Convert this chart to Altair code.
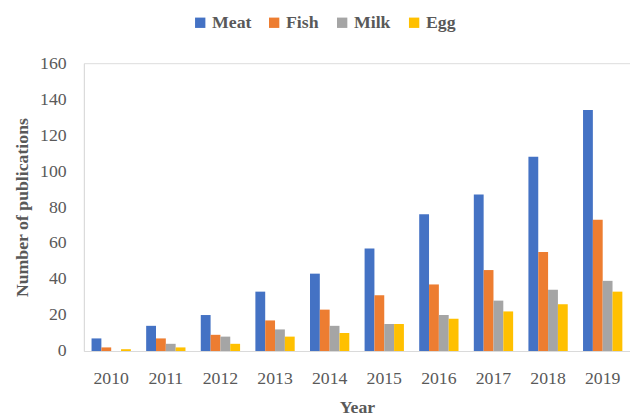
import altair as alt
import pandas as pd

years = ["2010", "2011", "2012", "2013", "2014", "2015", "2016", "2017", "2018", "2019"]
series = ["Meat", "Fish", "Milk", "Egg"]
meat = [7, 14, 20, 33, 43, 57, 76, 87, 108, 134]
fish = [2, 7, 9, 17, 23, 31, 37, 45, 55, 73]
milk = [0, 4, 8, 12, 14, 15, 20, 28, 34, 39]
egg = [1, 2, 4, 8, 10, 15, 18, 22, 26, 33]
colors = ["#4472C4", "#ED7D31", "#A5A5A5", "#FFC000"]

rows = []
for name, vals in zip(series, [meat, fish, milk, egg]):
    for y, v in zip(years, vals):
        rows.append({"Year": y, "Type": name, "Value": v})
df = pd.DataFrame(rows)

FONT = "Liberation Serif"

chart = alt.Chart(df).mark_bar().encode(
    x=alt.X("Year:N", sort=years,
            scale=alt.Scale(paddingInner=0.28, paddingOuter=0.14),
            axis=alt.Axis(title="Year", labelAngle=0, ticks=False, domainColor="#D9D9D9",
                          labelFontSize=18, labelColor="#595959", labelFont=FONT, labelPadding=19,
                          titleFont=FONT, titleFontSize=18, titleColor="#595959", titleFontWeight="bold",
                          titlePadding=11)),
    xOffset=alt.XOffset("Type:N", sort=series),
    y=alt.Y("Value:Q", scale=alt.Scale(domain=[0, 160]),
            axis=alt.Axis(title="Number of publications", values=list(range(0, 161, 20)), ticks=False,
                          grid=False, domainColor="#D9D9D9",
                          labelFontSize=18, labelColor="#595959", labelFont=FONT, labelPadding=18,
                          titleFont=FONT, titleFontSize=18, titleColor="#595959", titleFontWeight="bold",
                          titlePadding=8)),
    color=alt.Color("Type:N", sort=series, scale=alt.Scale(domain=series, range=colors),
                    legend=alt.Legend(title=None, orient="none", direction="horizontal",
                                      legendX=109, legendY=-50, symbolType="square", symbolSize=110,
                                      symbolStrokeWidth=0, labelFont=FONT, labelFontSize=18,
                                      labelFontWeight="bold", labelColor="#595959", columnPadding=14,
                                      labelOffset=3)),
).properties(width=554, height=292, padding={"left": 6, "top": 3, "right": 0, "bottom": 0}
).configure_view(stroke=None).configure(background="white", font=FONT)

chart.save("out.html", embed_options={"renderer": "svg", "actions": False})
